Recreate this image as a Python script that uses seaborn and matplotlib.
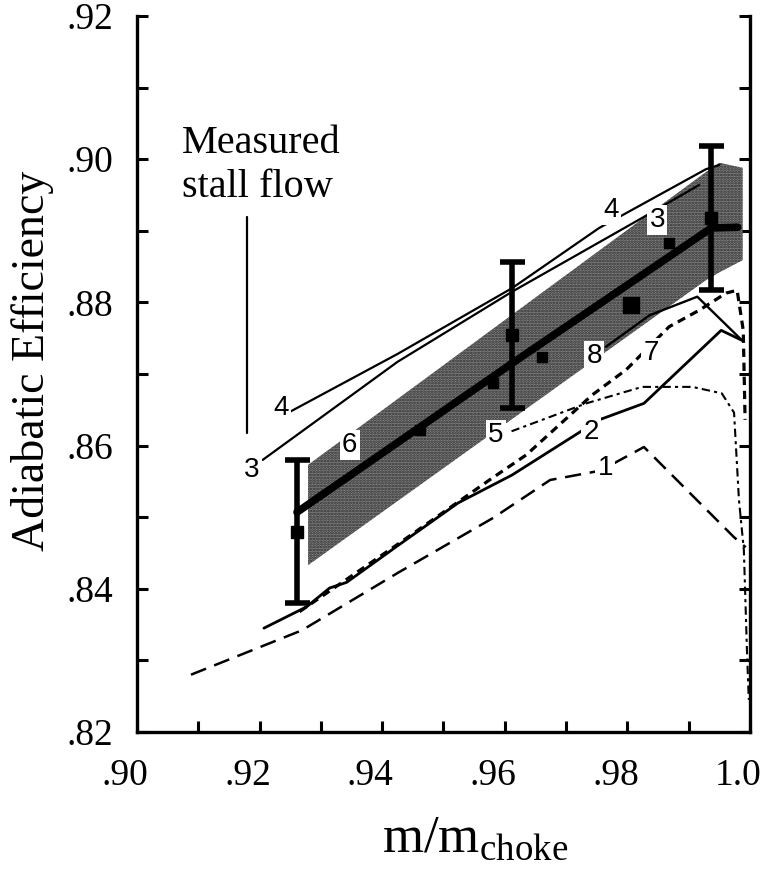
import numpy as np
import pandas as pd
import matplotlib
matplotlib.use("Agg")
import matplotlib.pyplot as plt
from matplotlib.transforms import ScaledTranslation
import seaborn as sns

# ---------------------------------------------------------------- data
# mass flow ratio (m/m_choke) and adiabatic efficiency for each prediction
line1_x = [0.9088, 0.9269, 0.9425, 0.9581, 0.9674, 0.9756, 0.9827, 0.9974, 0.9993]
line1_y = [0.8280, 0.8342, 0.8422, 0.8499, 0.8552, 0.8565, 0.8598, 0.8472, 0.8458]

line2_x = [0.9207, 0.9277, 0.9314, 0.9342, 0.9425, 0.9524, 0.9612, 0.9754, 0.9827, 0.9953, 0.9987]
line2_y = [0.8345, 0.8375, 0.8401, 0.8409, 0.8460, 0.8520, 0.8559, 0.8636, 0.8659, 0.8761, 0.8747]

line3_x = [0.9205, 0.9425, 0.9612, 0.9824, 0.9917]
line3_y = [0.8580, 0.8717, 0.8815, 0.8918, 0.8964]

line4_x = [0.9249, 0.9425, 0.9612, 0.9754, 0.9928, 0.9950]
line4_y = [0.8647, 0.8728, 0.8820, 0.8904, 0.8986, 0.8992]

line5_x = [0.9611, 0.9733, 0.9824, 0.9906, 0.9954, 0.9974, 0.9982, 0.9990, 0.9995, 0.9998]
line5_y = [0.8620, 0.8659, 0.8682, 0.8682, 0.8673, 0.8646, 0.8524, 0.8454, 0.8315, 0.8245]

line7_x = [0.9265, 0.9425, 0.9575, 0.9635, 0.9743, 0.9798, 0.9868, 0.9917, 0.9961, 0.9979, 0.9989, 0.9992]
line7_y = [0.8368, 0.8462, 0.8552, 0.8587, 0.8671, 0.8706, 0.8766, 0.8789, 0.8813, 0.8817, 0.8761, 0.8636]

line8_x = [0.9765, 0.9836, 0.9914, 0.9987]
line8_y = [0.8738, 0.8782, 0.8808, 0.8747]

# measured characteristic and its uncertainty band
meas_x = [0.9261, 0.9612, 0.9937, 0.9980]
meas_y = [0.8507, 0.8715, 0.8904, 0.8905]
pts_x = [0.9461, 0.9580, 0.9661, 0.9868]
pts_y = [0.8622, 0.8687, 0.8724, 0.8883]
err_x = [0.9261, 0.9612, 0.9936]
err_y = [0.8480, 0.8754, 0.8918]
err_h = [0.0100, 0.0102, 0.0100]

band_x = [0.9279, 0.9928, 0.9950, 0.9988]
band_hi = [0.8573, 0.8982, 0.8995, 0.8988]
band_lo = [0.8433, 0.8831, 0.8842, 0.8859]

stall_x = 0.918
stall_y = [0.8618, 0.8919]

# curve labels: text, x, y
labels = [("4", 0.9235, 0.8653), ("3", 0.9187, 0.8566), ("6", 0.9347, 0.8601),
          ("5", 0.9585, 0.8615), ("2", 0.9741, 0.8619), ("1", 0.9764, 0.8569),
          ("8", 0.9746, 0.8725), ("7", 0.9839, 0.8729), ("4", 0.9774, 0.8929),
          ("3", 0.9849, 0.8915)]

x_ticks = [0.90, 0.92, 0.94, 0.96, 0.98, 1.00]
x_ticklabels = [".90", ".92", ".94", ".96", ".98", "1.0"]
y_ticks = [0.82, 0.84, 0.86, 0.88, 0.90, 0.92]
y_ticklabels = [".82", ".84", ".86", ".88", ".90", ".92"]

# ---------------------------------------------------------------- style
sns.set_theme(style="ticks")
plt.rcParams["font.family"] = ["Liberation Serif", "DejaVu Serif"]
plt.rcParams["mathtext.fontset"] = "custom"
plt.rcParams["mathtext.rm"] = "Liberation Serif"
plt.rcParams["hatch.linewidth"] = 1.3
for key in ("text.color", "axes.labelcolor", "xtick.color", "ytick.color", "axes.edgecolor"):
    plt.rcParams[key] = "black"

fig = plt.figure(figsize=(7.78, 8.76), dpi=100)
ax = fig.add_axes([0.1761, 0.1644, 0.7879, 0.8173])

# uncertainty band
ax.fill_between(band_x, band_lo, band_hi, facecolor="#858585", edgecolor="#2a2a2a",
                hatch="......", linewidth=0, zorder=1)


def curve(x, y, lw=1.6, ls="-", z=2, color="black"):
    df = pd.DataFrame({"x": x, "y": y})
    sns.lineplot(data=df, x="x", y="y", sort=False, estimator=None, ax=ax,
                 color=color, linewidth=lw, linestyle=ls, zorder=z)


curve(line1_x, line1_y, lw=1.8, ls=(0, (6.5, 3.5)))
curve(line2_x, line2_y, lw=2.0)
curve(line3_x, line3_y, lw=1.6, z=2.5)
curve(line4_x, line4_y, lw=1.6, z=2.5)
curve(line5_x, line5_y, lw=1.5, ls=(0, (4, 2, 1.5, 2)))
curve(line7_x, line7_y, lw=2.3, ls=(0, (2.6, 1.8)))
curve(line8_x, line8_y, lw=1.7)

# measured line, data points and error bars
curve(meas_x, meas_y, lw=5.5, z=3)
ax.plot(pts_x, pts_y, "s", color="black", ms=7, zorder=3.5)
ax.errorbar(err_x, err_y, yerr=err_h, fmt="s", color="black", ms=8,
            elinewidth=4, capsize=9, capthick=4, zorder=4)
ax.plot([0.9806], [0.8796], "s", color="black", ms=12, zorder=3.5)

# measured stall flow
ax.plot([stall_x, stall_x], stall_y, color="black", lw=1.6)
ax.text(0.9073, 0.9009, "Measured", fontsize=29, ha="left", va="baseline")
ax.text(0.9073, 0.8947, "stall flow", fontsize=29, ha="left", va="baseline")

for txt, lx, ly in labels:
    ax.text(lx, ly, txt, fontsize=20, family=["Liberation Sans", "DejaVu Sans"],
            ha="center", va="center", zorder=6,
            bbox=dict(boxstyle="square,pad=0.08", facecolor="white", edgecolor="none"))

# axes
ax.set_xlim(0.90, 1.00)
ax.set_ylim(0.82, 0.92)
ax.set_xticks(x_ticks)
ax.set_xticklabels(x_ticklabels)
ax.set_yticks(y_ticks)
ax.set_yticklabels(y_ticklabels)
ax.set_xticks(np.arange(0.91, 1.0, 0.02), minor=True)
ax.set_yticks(np.arange(0.83, 0.92, 0.02), minor=True)
for which in ("major", "minor"):
    ax.tick_params(axis="both", which=which, direction="in", length=8, width=2.2,
                   color="black", right=True, top=False)
ax.tick_params(axis="x", which="major", labelsize=27, pad=19)
ax.tick_params(axis="y", which="major", labelsize=27, pad=17)
for lab in ax.get_xticklabels():
    lab.set_transform(lab.get_transform() + ScaledTranslation(-0.12, 0, fig.dpi_scale_trans))

for side in ("left", "bottom", "right"):
    ax.spines[side].set_linewidth(2.4)
    ax.spines[side].set_color("black")
ax.spines["top"].set_visible(False)

ax.set_xlabel(r"$\mathrm{m/m}_{\mathrm{choke}}$", fontsize=38)
ax.xaxis.set_label_coords(0.552, -0.117)
ax.set_ylabel("Adiabatic Efficiency", fontsize=33)
ax.yaxis.set_label_coords(-0.135, 0.518)

fig.savefig("out.png", dpi=100)
